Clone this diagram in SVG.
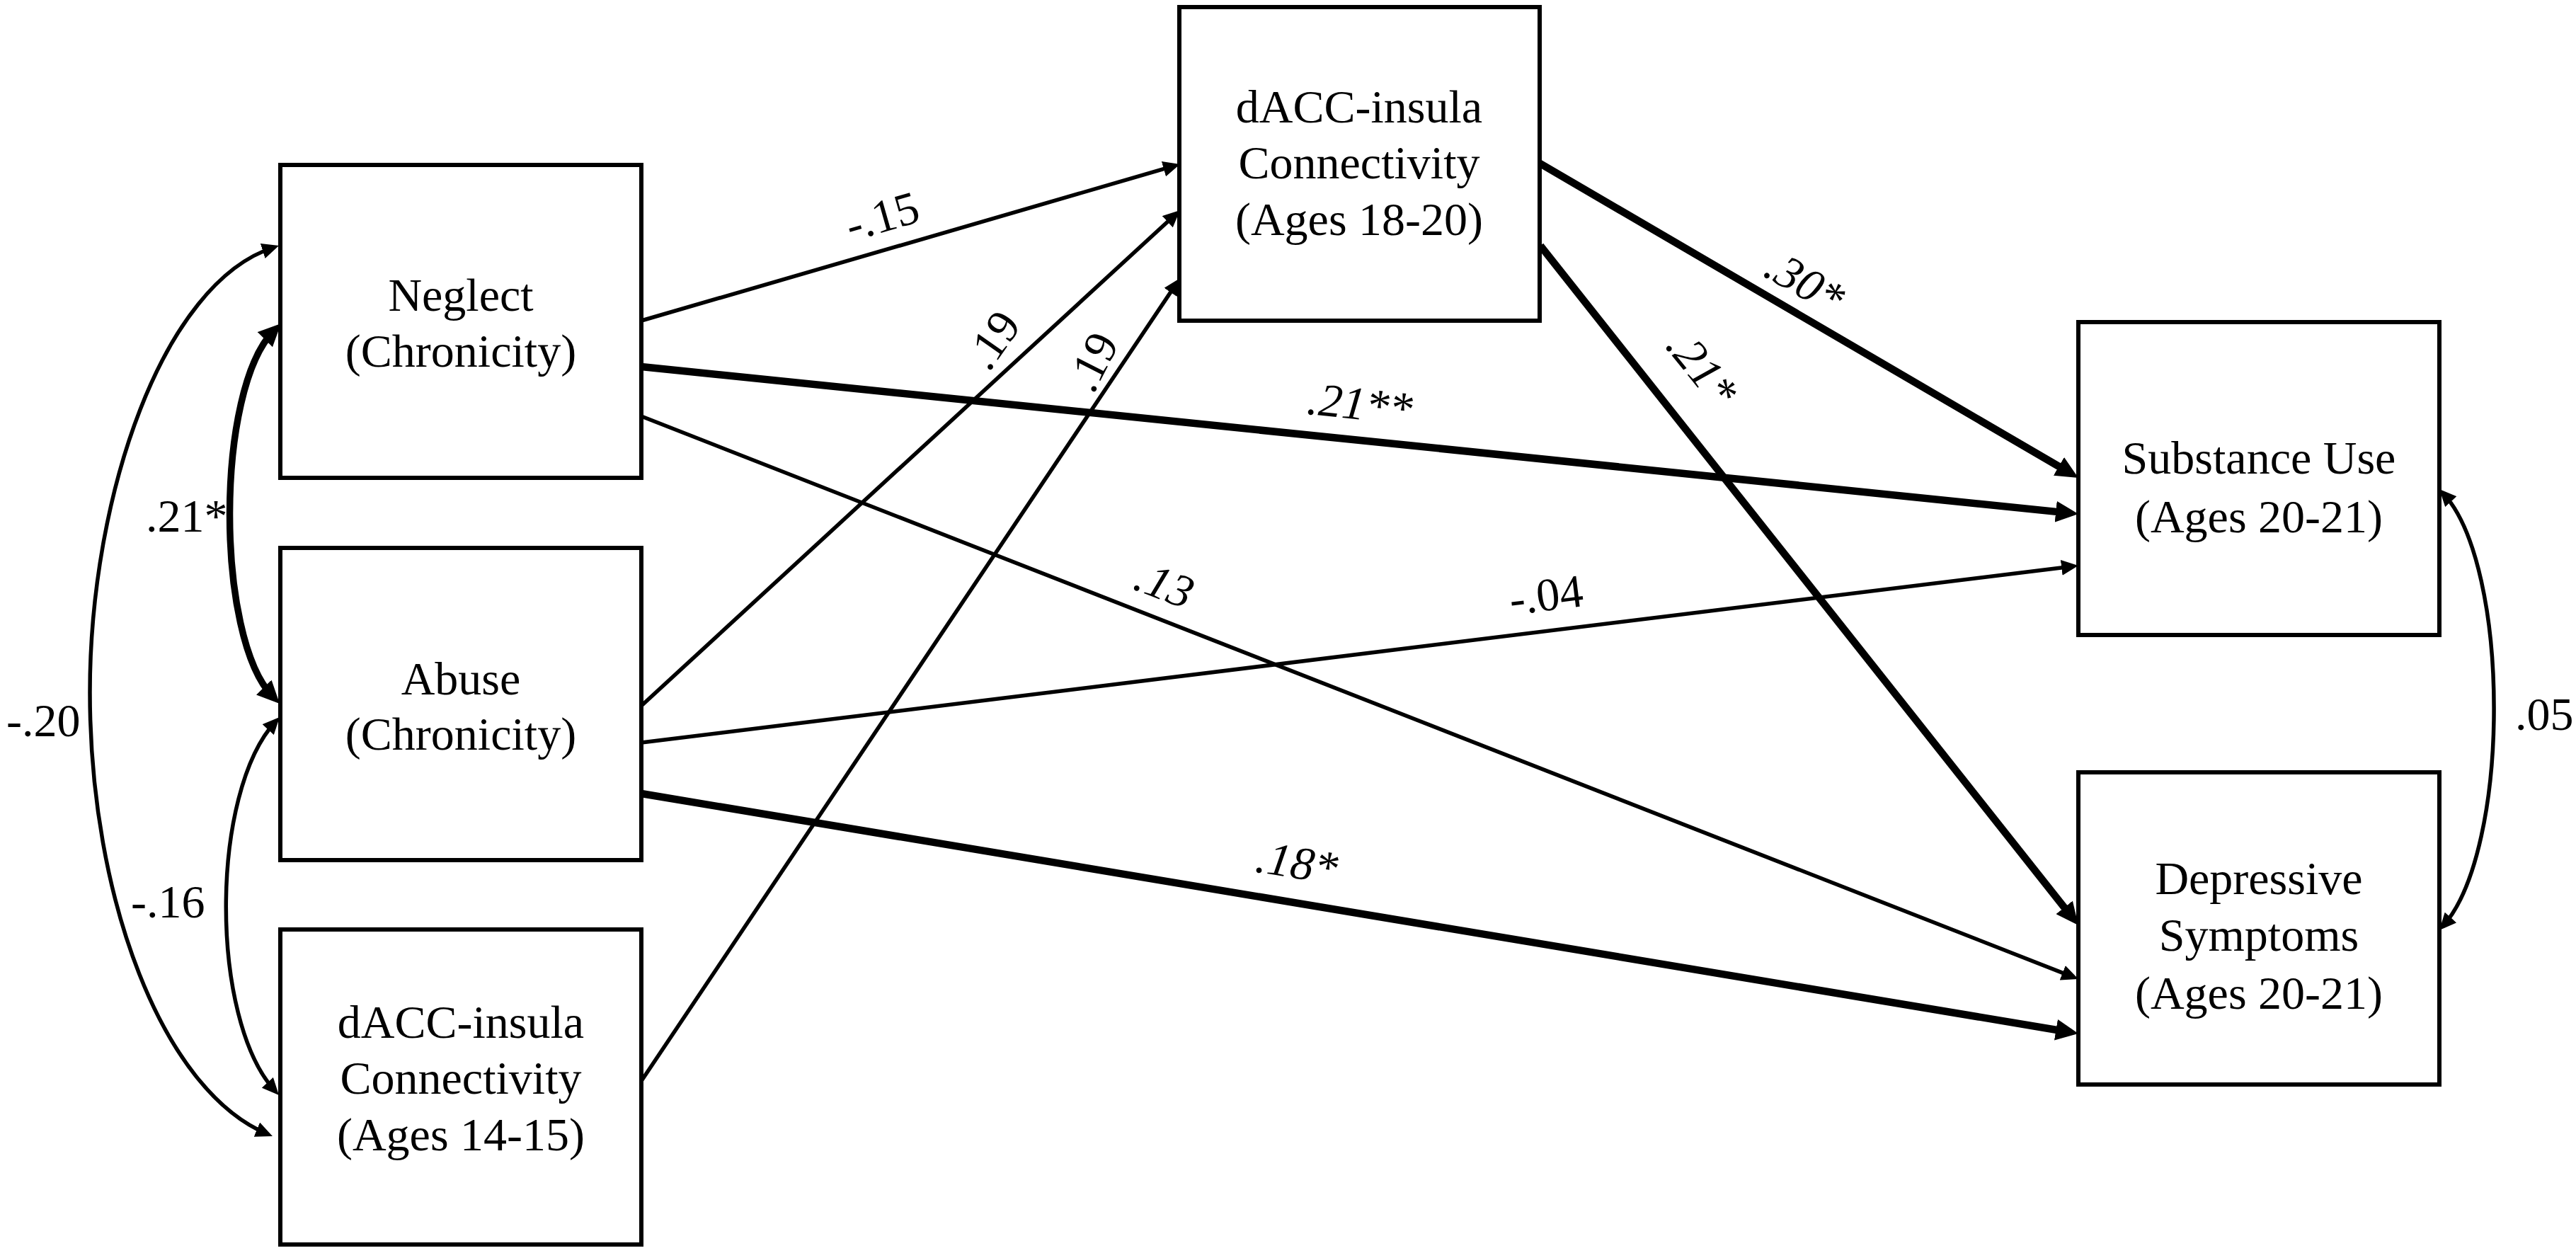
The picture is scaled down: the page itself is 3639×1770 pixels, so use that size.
<svg xmlns="http://www.w3.org/2000/svg" width="3639" height="1770" viewBox="0 0 3639 1770">
<style>
text{font-family:'Liberation Serif','Times New Roman',Times,'DejaVu Serif',serif;font-size:66px;fill:#000}
.box{fill:#fff;stroke:#000;stroke-width:6}
.nt{text-anchor:middle}
.lc{text-anchor:middle;dominant-baseline:central}
.it{font-style:italic}
.thin{fill:none;stroke:#000;stroke-width:5.5;marker-end:url(#ah)}
.thick{fill:none;stroke:#000;stroke-width:10.5;marker-end:url(#ahk)}
.cthin{fill:none;stroke:#000;stroke-width:5.5;marker-start:url(#ah);marker-end:url(#ah)}
.cthick{fill:none;stroke:#000;stroke-width:9.5;marker-start:url(#ahk);marker-end:url(#ahk)}
</style>
<defs>
<marker id="ah" markerUnits="userSpaceOnUse" markerWidth="24" markerHeight="22" viewBox="0 0 24 22" refX="16" refY="11" orient="auto-start-reverse"><path d="M0,0 L24,11 L0,22 z" fill="#000"/></marker>
<marker id="ahk" markerUnits="userSpaceOnUse" markerWidth="32" markerHeight="30" viewBox="0 0 32 30" refX="18" refY="15" orient="auto-start-reverse"><path d="M0,0 L32,15 L0,30 z" fill="#000"/></marker>
</defs>
<rect width="3639" height="1770" fill="#fff"/>
<g id="connectors">
<line class="thin" x1="906" y1="453" x2="1659.3" y2="234.2"/>
<line class="thin" x1="906" y1="997" x2="1661.1" y2="302.4"/>
<line class="thin" x1="906" y1="1527" x2="1662.5" y2="399.6"/>
<line class="thick" x1="906" y1="518" x2="2922.1" y2="724.6"/>
<line class="thin" x1="906" y1="588" x2="2928.6" y2="1380.1"/>
<line class="thin" x1="906" y1="1049" x2="2928.1" y2="800.0"/>
<line class="thick" x1="906" y1="1121" x2="2922.2" y2="1457.7"/>
<line class="thick" x1="2174" y1="230" x2="2923.9" y2="667.9"/>
<line class="thick" x1="2176" y1="347" x2="2927.3" y2="1296.0"/>
<path class="cthick" d="M387.1,466.9 C304,550 304,900 385.3,983.9"/>
<path class="cthin" d="M386.4,349.5 C230,400 127,700 127,978 C127,1270 230,1540 377.6,1601.9"/>
<path class="cthin" d="M389.6,1018.9 C296,1120 296,1440 388.6,1541.1"/>
<path class="cthin" d="M3451.4,696.9 C3547,800 3547,1200 3451.3,1308.0"/>
<text class="lc" transform="translate(1246,305) rotate(-16)">-.15</text>
<text class="lc" transform="translate(1402,480) rotate(-55)">.19</text>
<text class="lc" transform="translate(1543,511) rotate(-63)">.19</text>
<text class="lc it" transform="translate(1921,570) rotate(6)">.21**</text>
<text class="lc it" transform="translate(1645,825) rotate(21)">.13</text>
<text class="lc" transform="translate(2184,840) rotate(-7)">-.04</text>
<text class="lc it" transform="translate(1832,1218) rotate(9)">.18*</text>
<text class="lc it" transform="translate(2550,398) rotate(30)">.30*</text>
<text class="lc it" transform="translate(2405,520) rotate(51)">.21*</text>
<text x="206" y="751">.21*</text>
<text x="9" y="1040">-.20</text>
<text x="185" y="1296">-.16</text>
<text x="3553" y="1031">.05</text>
</g>
<g id="neglect">
<rect class="box" x="396" y="233" width="510" height="442"/>
<text class="nt" x="651" y="439">Neglect</text>
<text class="nt" x="651" y="518">(Chronicity)</text>
</g>
<g id="abuse">
<rect class="box" x="396" y="774" width="510" height="441"/>
<text class="nt" x="651" y="981">Abuse</text>
<text class="nt" x="651" y="1059">(Chronicity)</text>
</g>
<g id="dacc1415">
<rect class="box" x="396" y="1313" width="510" height="445"/>
<text class="nt" x="651" y="1466">dACC-insula</text>
<text class="nt" x="651" y="1545">Connectivity</text>
<text class="nt" x="651" y="1625">(Ages 14-15)</text>
</g>
<g id="dacc1820">
<rect class="box" x="1666" y="10" width="509" height="443"/>
<text class="nt" x="1920" y="173">dACC-insula</text>
<text class="nt" x="1920" y="252">Connectivity</text>
<text class="nt" x="1920" y="332">(Ages 18-20)</text>
</g>
<g id="substance">
<rect class="box" x="2936" y="455" width="510" height="442"/>
<text class="nt" x="3191" y="669">Substance Use</text>
<text class="nt" x="3191" y="752">(Ages 20-21)</text>
</g>
<g id="depressive">
<rect class="box" x="2936" y="1091" width="510" height="441"/>
<text class="nt" x="3191" y="1263">Depressive</text>
<text class="nt" x="3191" y="1343">Symptoms</text>
<text class="nt" x="3191" y="1425">(Ages 20-21)</text>
</g>
</svg>
